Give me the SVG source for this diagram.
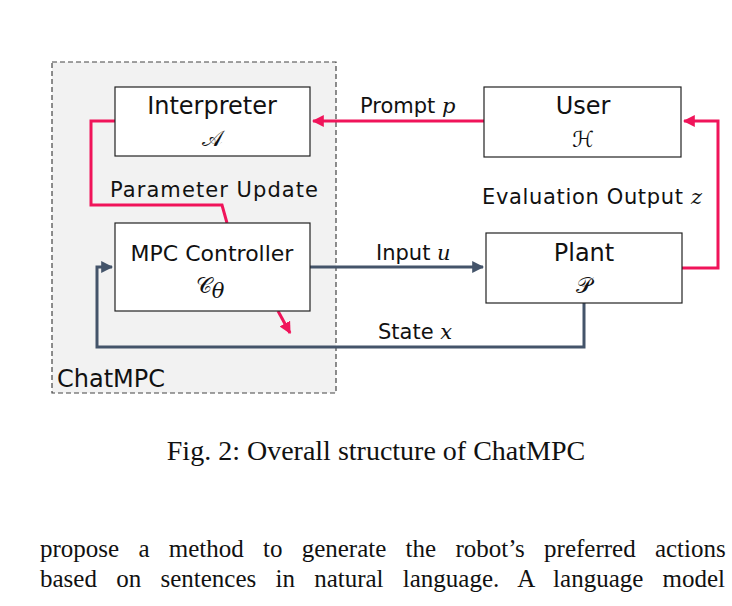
<svg xmlns="http://www.w3.org/2000/svg" width="732" height="606" viewBox="0 0 732 606">
<style>
.b{fill:#fff;stroke:#222;stroke-width:1.2}
.t{font-family:"DejaVu Sans",sans-serif;font-size:21px;fill:#111}
.m{font-family:"DejaVu Serif",serif;font-size:21px;font-style:italic;fill:#111}
.c{font-family:"DejaVu Sans",sans-serif;font-size:22px;fill:#111}
.s{font-family:"Liberation Serif",serif;font-size:25px;fill:#111}
.pk{fill:none;stroke:#f0145a;stroke-width:3}
.bl{fill:none;stroke:#44546a;stroke-width:3}
</style>
<defs>
<marker id="ap" viewBox="0 0 10 10" refX="9" refY="5" markerWidth="4" markerHeight="4" orient="auto"><path d="M0,0L10,5L0,10z" fill="#f0145a"/></marker>
<marker id="ab" viewBox="0 0 10 10" refX="9" refY="5" markerWidth="4" markerHeight="4" orient="auto"><path d="M0,0L10,5L0,10z" fill="#44546a"/></marker>
</defs>
<rect width="732" height="606" fill="#fff"/>
<g id="chatmpc"><rect x="52" y="62" width="284" height="331" fill="#f2f2f2" stroke="#444" stroke-width="1.2" stroke-dasharray="5,3"/>
<text class="t" x="57" y="387" style="font-size:24px">ChatMPC</text></g>
<g id="connectors">
<path class="pk" d="M115,121H91V205H222L227,223"/>
<path class="pk" d="M278,311L290,333" marker-end="url(#ap)"/>
<path class="pk" d="M484,121H313" marker-end="url(#ap)"/>
<path class="pk" d="M682,268H718V121H684" marker-end="url(#ap)"/>
<path class="bl" d="M310,267H483" marker-end="url(#ab)"/>
<path class="bl" d="M584,303V347H97V267H112" marker-end="url(#ab)"/>
<text class="t" x="110" y="197" textLength="208">Parameter Update</text>
<text class="t" x="360" y="113">Prompt <tspan class="m">p</tspan></text>
<text class="t" x="482" y="204" textLength="220">Evaluation Output <tspan class="m">z</tspan></text>
<text class="t" x="376" y="260">Input <tspan class="m">u</tspan></text>
<text class="t" x="378" y="339">State <tspan class="m">x</tspan></text>
</g>
<g id="interpreter"><rect class="b" x="115" y="87" width="195" height="69"/>
<text class="t" x="212" y="114" text-anchor="middle" style="font-size:24px">Interpreter</text>
<text class="c" x="212" y="146" text-anchor="middle">𝒜</text></g>
<g id="mpc"><rect class="b" x="115" y="223" width="195" height="88"/>
<text class="t" x="212" y="261" text-anchor="middle" style="font-size:22px">MPC Controller</text>
<text class="c" x="210" y="293" text-anchor="middle">𝒞<tspan class="m" font-size="15" dy="5">θ</tspan></text></g>
<g id="user"><rect class="b" x="484" y="87" width="197" height="70"/>
<text class="t" x="583" y="114" text-anchor="middle" style="font-size:24px">User</text>
<text class="c" x="583" y="147" text-anchor="middle">ℋ</text></g>
<g id="plant"><rect class="b" x="486" y="233" width="196" height="70"/>
<text class="t" x="584" y="261" text-anchor="middle" style="font-size:24px">Plant</text>
<text class="c" x="584" y="293" text-anchor="middle">𝒫</text></g>
<text class="s" x="376" y="460" text-anchor="middle" style="font-size:28px">Fig. 2: Overall structure of ChatMPC</text>
<text class="s" x="40" y="557" word-spacing="13">propose a method to generate the robot’s preferred actions</text>
<text class="s" x="40" y="587" word-spacing="13">based on sentences in natural language. A language model</text>
</svg>
